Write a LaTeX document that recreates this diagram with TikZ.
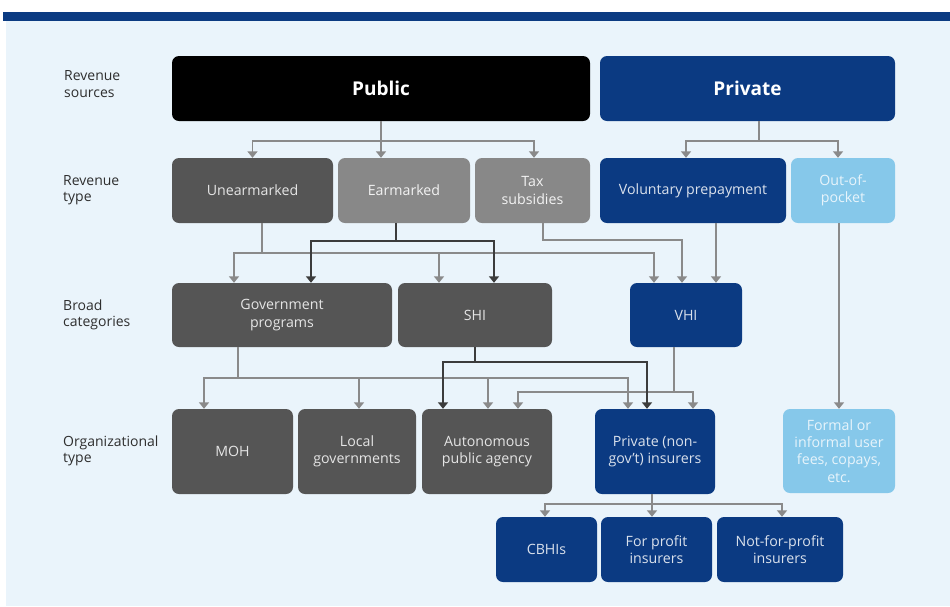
\documentclass[tikz,border=0pt]{standalone}
\usepackage{fontspec}
\setmainfont{Open Sans}
\usetikzlibrary{arrows.meta,calc}
\definecolor{bgc}{HTML}{EAF4FB}
\definecolor{barc}{HTML}{0B3B82}
\definecolor{dgray}{HTML}{555555}
\definecolor{mgray}{HTML}{888888}
\definecolor{dblue}{HTML}{0B3A82}
\definecolor{lblue}{HTML}{86C8EA}
\definecolor{lconn}{HTML}{8A8A8A}
\definecolor{dconn}{HTML}{3C3C3C}
\definecolor{lbl}{HTML}{2E2E2E}
\tikzset{
  box/.style={rounded corners=7pt, inner sep=0pt, align=center, font=\fontsize{14.2}{17.2}\selectfont},
  gbox/.style={box, fill=dgray, text=white!85!dgray},
  mbox/.style={box, fill=mgray, text=white!90!mgray},
  bbox/.style={box, fill=dblue, text=white!85!dblue},
  lbox/.style={box, fill=lblue, text=white!80!lblue},
  rowlabel/.style={anchor=west, align=left, text=lbl, inner sep=0pt, font=\fontsize{14}{16.5}\selectfont},
  lc/.style={draw=lconn, line width=1.8pt},
  dc/.style={draw=dconn, line width=1.8pt},
  tipl/.style={-{Triangle[width=10pt,length=6.5pt]}},
}
\begin{document}
\begin{tikzpicture}[x=1pt,y=-1pt]
\useasboundingbox (0,0) rectangle (950,606);
\fill[white] (0,0) rectangle (950,606);
\fill[barc] (3,12) rectangle (950,21);
\fill[bgc] (6,21) rectangle (950,606);

% row labels
\node[rowlabel] (l1) at (64,84) {Revenue\\sources};
\node[rowlabel] (l2) at (63,190) {Revenue\\type};
\node[rowlabel] (l3) at (63,315) {Broad\\categories};
\node[rowlabel] (l4) at (63,451) {Organizational\\type};

% row 1
\node[box, fill=black, text=white, minimum width=418pt, minimum height=65pt, font=\fontsize{19}{22}\selectfont\bfseries] (pub) at (381,88.5) {Public};
\node[box, fill=dblue, text=white, minimum width=295pt, minimum height=65pt, font=\fontsize{19}{22}\selectfont\bfseries] (pri) at (747.5,88.5) {Private};

% row 2
\node[gbox, minimum width=161pt, minimum height=65pt] (une) at (252.5,190.5) {Unearmarked};
\node[mbox, minimum width=132pt, minimum height=65pt] (ear) at (404,190.5) {Earmarked};
\node[mbox, minimum width=115pt, minimum height=65pt] (tax) at (532.5,190.5) {Tax\\subsidies};
\node[bbox, minimum width=186pt, minimum height=65pt] (vol) at (693,190.5) {Voluntary prepayment};
\node[lbox, minimum width=104pt, minimum height=65pt] (oop) at (843,190.5) {Out-of-\\pocket};

% row 3
\node[gbox, minimum width=220pt, minimum height=64pt] (gov) at (282,315) {Government\\programs};
\node[gbox, minimum width=154pt, minimum height=64pt] (shi) at (475,315) {SHI};
\node[bbox, minimum width=112pt, minimum height=64pt] (vhi) at (686,315) {VHI};

% row 4
\node[gbox, minimum width=121pt, minimum height=85pt] (moh) at (232.5,451.5) {MOH};
\node[gbox, minimum width=118pt, minimum height=85pt] (loc) at (357,451.5) {Local\\governments};
\node[gbox, minimum width=130pt, minimum height=85pt] (aut) at (487,451.5) {Autonomous\\public agency};
\node[bbox, minimum width=120pt, minimum height=85pt] (prv) at (655,451.5) {Private (non-\\gov't) insurers};
\node[lbox, minimum width=112pt, minimum height=84pt] (fee) at (839,451) {Formal or\\informal user\\fees, copays,\\etc.};

% row 5
\node[bbox, minimum width=101pt, minimum height=65pt] (cbh) at (546.5,549.5) {CBHIs};
\node[bbox, minimum width=111pt, minimum height=65pt] (fpi) at (656.5,549.5) {For profit\\insurers};
\node[bbox, minimum width=126pt, minimum height=65pt] (nfp) at (780,549.5) {Not-for-profit\\insurers};

% public -> revenue types
\draw[lc] (pub.south) -- ++(0,20) coordinate (pubb);
\draw[lc,tipl] (pubb) -| (une.north);
\draw[lc,tipl] (pubb) -| ([xshift=1.5pt]tax.north);
\draw[lc,tipl] (pubb) -- (pubb |- ear.north);

% private -> revenue types
\draw[lc] ([xshift=11.5pt]pri.south) -- ++(0,20) coordinate (prib);
\draw[lc,tipl] (prib) -| ([xshift=-7pt]vol.north);
\draw[lc,tipl] (prib) -| ([xshift=-5pt]oop.north);

% unearmarked
\coordinate (shiA) at ([xshift=-36pt]shi.north);
\draw[lc] ([xshift=9.5pt]une.south) -- ++(0,30) coordinate (uneb);
\draw[lc,tipl] (uneb) -| ([xshift=-48pt]gov.north);
\draw[lc,tipl] (uneb) -| ([xshift=-32pt]vhi.north);
\draw[lc,tipl] (uneb -| shiA) -- (shiA);

% tax subsidies
\draw[lc,tipl] ([xshift=10.5pt]tax.south) -- ++(0,17) -| ([xshift=-4pt]vhi.north);

% voluntary prepayment
\coordinate (volA) at ([xshift=23pt]vol.south);
\draw[lc,tipl] (volA) -- (volA |- vhi.north);

% out of pocket
\draw[lc,tipl] (oop.south -| fee.north) -- (fee.north);

% earmarked (dark)
\draw[dc] ([xshift=-8pt]ear.south) -- ++(0,18) coordinate (earb);
\draw[dc,tipl] (earb) -| ([xshift=29pt]gov.north);
\draw[dc,tipl] (earb) -| ([xshift=19pt]shi.north);

% government programs
\coordinate (locA) at ([xshift=2pt]loc.north);
\coordinate (autA) at ([xshift=1pt]aut.north);
\draw[lc] ([xshift=-44pt]gov.south) -- ++(0,31) coordinate (govb);
\draw[lc,tipl] (govb) -| ([xshift=-28.5pt]moh.north);
\draw[lc,tipl] (govb) -| ([xshift=-27pt]prv.north);
\draw[lc,tipl] (govb -| locA) -- (locA);
\draw[lc,tipl] (govb -| autA) -- (autA);

% VHI
\draw[lc] ([xshift=-12pt]vhi.south) -- ++(0,45) coordinate (vhib);
\draw[lc,tipl] (vhib) -| ([xshift=31pt]aut.north);
\draw[lc,tipl] (vhib) -| ([xshift=38pt]prv.north);

% SHI (dark)
\draw[dc] (shi.south) -- ++(0,15) coordinate (shib);
\draw[dc,tipl] (shib) -| ([xshift=-44pt]aut.north);
\draw[dc,tipl] (shib) -| ([xshift=-8pt]prv.north);

% private insurers
\coordinate (fpiA) at ([xshift=-4.5pt]fpi.north);
\draw[lc] ([xshift=-3pt]prv.south) -- ++(0,10) coordinate (prvb);
\draw[lc,tipl] (prvb) -| ([xshift=-1.5pt]cbh.north);
\draw[lc,tipl] (prvb) -| ([xshift=2pt]nfp.north);
\draw[lc,tipl] (prvb -| fpiA) -- (fpiA);
\end{tikzpicture}
\end{document}
